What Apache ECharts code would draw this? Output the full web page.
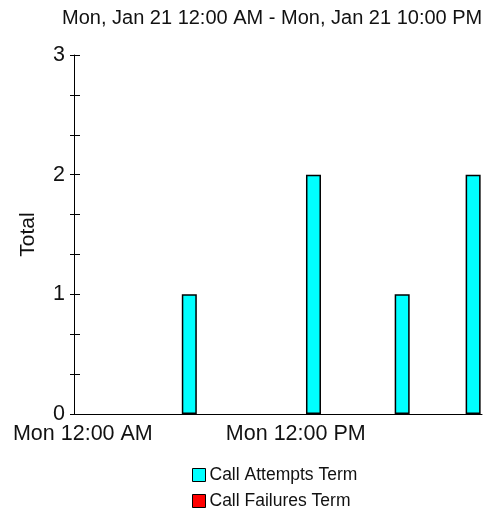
<!DOCTYPE html>
<html>
<head>
<meta charset="utf-8">
<script src="https://cdn.jsdelivr.net/npm/echarts@6/dist/echarts.min.js"></script>
<style>
  html, body { margin: 0; padding: 0; background: #fff; }
  #chart { width: 489px; height: 514px; }
</style>
</head>
<body>
<div id="chart"></div>
<script>
// hourly buckets, Mon Jan 21
const hours = [
  'Mon 12:00 AM', 'Mon 1:00 AM', 'Mon 2:00 AM', 'Mon 3:00 AM', 'Mon 4:00 AM', 'Mon 5:00 AM',
  'Mon 6:00 AM', 'Mon 7:00 AM', 'Mon 8:00 AM', 'Mon 9:00 AM', 'Mon 10:00 AM', 'Mon 11:00 AM',
  'Mon 12:00 PM', 'Mon 1:00 PM', 'Mon 2:00 PM', 'Mon 3:00 PM', 'Mon 4:00 PM', 'Mon 5:00 PM',
  'Mon 6:00 PM', 'Mon 7:00 PM', 'Mon 8:00 PM', 'Mon 9:00 PM', 'Mon 10:00 PM'
]
const callAttempts = [0, 0, 0, 0, 0, 0, 1, 0, 0, 0, 0, 0, 0, 2, 0, 0, 0, 0, 1, 0, 0, 0, 2]
const callFailures = [0, 0, 0, 0, 0, 0, 0, 0, 0, 0, 0, 0, 0, 0, 0, 0, 0, 0, 0, 0, 0, 0, 0]
const seriesNames = ['Call Attempts Term', 'Call Failures Term']

const font = 'Liberation Sans, Arial, sans-serif'
const chart = echarts.init(document.getElementById('chart'))

// empty hours draw no bar at all (avoids zero-height outlines on the axis)
function bars(values) {
  return values.map(v => (v === 0 ? '-' : v))
}

function legendBox(name, top) {
  return {
    orient: 'vertical',
    left: 192,
    top: top,
    padding: 0,
    icon: 'rect',
    itemWidth: 13,
    itemHeight: 13,
    itemGap: 5,
    data: [name],
    itemStyle: { borderColor: '#000', borderWidth: 1 },
    textStyle: { color: '#111', fontSize: 17.5, fontFamily: font, padding: [0, 0, 0, -1] }
  }
}

chart.setOption({
  animation: false,
  title: {
    text: 'Mon, Jan 21 12:00 AM - Mon, Jan 21 10:00 PM',
    left: 57,
    top: 3,
    textStyle: { color: '#111', fontSize: 20, fontWeight: 'normal', fontFamily: font }
  },
  legend: [legendBox(seriesNames[0], 466), legendBox(seriesNames[1], 492)],
  grid: { left: 74, right: 7, top: 55, bottom: 100 },
  xAxis: [{
    type: 'category',
    data: hours,
    axisLine: { lineStyle: { color: '#000', width: 1 } },
    axisTick: { inside: true, length: 4, interval: 11, alignWithLabel: true, lineStyle: { color: '#000' } },
    axisLabel: { interval: 11, margin: 9, color: '#111', fontSize: 21.5, fontFamily: font }
  }, {
    type: 'category',
    data: hours,
    position: 'bottom',
    axisLine: { show: false },
    axisTick: { length: 4, interval: 11, alignWithLabel: true, lineStyle: { color: '#000' } },
    axisLabel: { show: false }
  }],
  yAxis: [{
    type: 'value',
    min: 0,
    max: 3,
    interval: 1,
    name: 'Total',
    nameLocation: 'middle',
    nameGap: 35,
    nameTextStyle: { color: '#111', fontSize: 21, fontFamily: font },
    axisLine: { show: true, lineStyle: { color: '#000', width: 1 } },
    axisTick: { show: true, inside: true, length: 6, lineStyle: { color: '#000' } },
    minorTick: { show: true, splitNumber: 3, length: 6, lineStyle: { color: '#000' } },
    splitLine: { show: false },
    axisLabel: { margin: 9, color: '#111', fontSize: 21.5, fontFamily: font }
  }, {
    type: 'value',
    min: 0,
    max: 3,
    interval: 1,
    position: 'left',
    axisLine: { show: false },
    axisTick: { show: true, length: 4, lineStyle: { color: '#000' } },
    minorTick: { show: true, splitNumber: 3, length: 4, lineStyle: { color: '#000' } },
    splitLine: { show: false },
    axisLabel: { show: false }
  }],
  series: [{
    name: seriesNames[0],
    type: 'bar',
    stack: 'total',
    barWidth: 15,
    data: bars(callAttempts),
    itemStyle: { color: '#00ffff', borderColor: '#000', borderWidth: 1.5 }
  }, {
    name: seriesNames[1],
    type: 'bar',
    stack: 'total',
    barWidth: 15,
    data: bars(callFailures),
    itemStyle: { color: '#ff0000', borderColor: '#000', borderWidth: 1.5 }
  }]
})
</script>
</body>
</html>
